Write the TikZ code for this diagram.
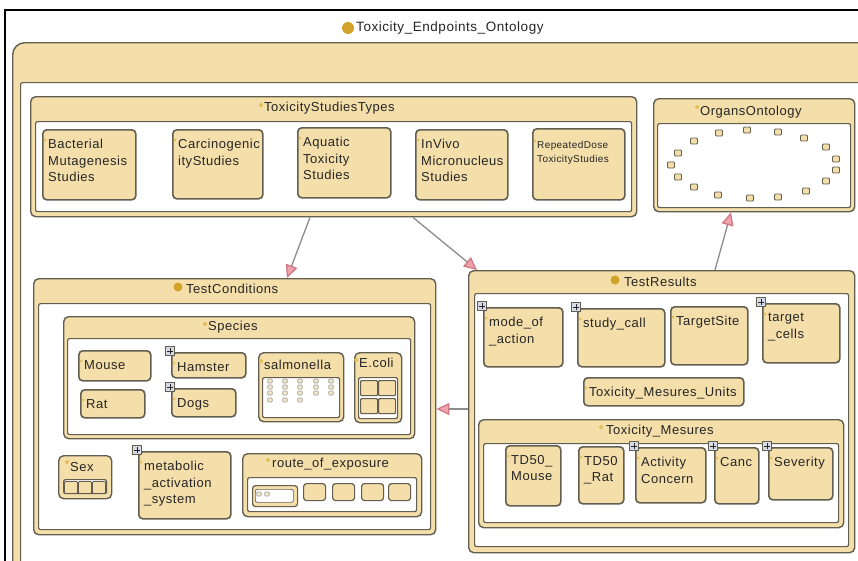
\documentclass[tikz,border=0pt]{standalone}
\usepackage{fontspec}
\setmainfont{Liberation Sans}[LetterSpace=4]
\usetikzlibrary{arrows.meta}

\definecolor{tan}{HTML}{F4DEA9}
\definecolor{edge}{HTML}{625E50}
\definecolor{ink}{HTML}{262626}
\definecolor{gold}{HTML}{D2A22A}
\definecolor{dotgold}{HTML}{E3BE5C}
\definecolor{pinkfill}{HTML}{EFA3AE}
\definecolor{pinkedge}{HTML}{D27684}
\definecolor{wire}{HTML}{8C8C8C}
\definecolor{plusbg}{HTML}{D5DAE6}
\definecolor{cellfill}{HTML}{F1E7CC}

\tikzset{
  packo/.style={draw=edge, line width=1.4pt, fill=tan, rounded corners=5pt, inner sep=0pt},
  packi/.style={draw=edge, line width=1.2pt, fill=white, rounded corners=2pt, inner sep=0pt},
  kid/.style={draw=edge, line width=1.6pt, fill=tan, rounded corners=4pt, inner sep=0pt},
  kidtext/.style={font=\fontsize{13}{16.5}\selectfont, text=ink, align=left, inner sep=0pt},
  head/.style={font=\fontsize{13}{16}\selectfont, text=ink, inner sep=0pt, anchor=west},
  bigdot/.style={circle, fill=gold, inner sep=0pt, minimum size=10pt},
  smalldot/.style={circle, fill=dotgold, inner sep=0pt, minimum size=4pt},
  kidmark/.style={circle, fill=dotgold, inner sep=0pt, minimum size=3pt},
  plusbox/.style={draw=edge, fill=plusbg, line width=0.8pt, minimum size=9pt, inner sep=0pt,
    path picture={
      \draw[ink, line width=0.9pt]
        ([xshift=-2.6pt]path picture bounding box.center) -- ([xshift=2.6pt]path picture bounding box.center)
        ([yshift=-2.6pt]path picture bounding box.center) -- ([yshift=2.6pt]path picture bounding box.center);}},
  rel/.style={draw=wire, line width=1.3pt,
    -{Triangle[length=13pt,width=12pt,fill=pinkfill,color=pinkedge]}},
  organ/.style={draw=edge, fill=tan, line width=0.9pt, rounded corners=1pt,
    minimum width=7pt, minimum height=6pt, inner sep=0pt},
  cell/.style={draw=edge!60, fill=cellfill, line width=0.6pt, rounded corners=0.8pt,
    minimum width=4.5pt, minimum height=4pt, inner sep=0pt},
  slot/.style={draw=edge, fill=tan, line width=1.2pt, rounded corners=3pt, inner sep=0pt},
}

% package box: name, x, y, width, height, header height, side gap
\newcommand\pack[7]{%
  \node[packo, anchor=north west, minimum width=#4pt, minimum height=#5pt] (#1) at (#2,#3) {};
  \node[packi, anchor=north west, minimum width={(#4-2*#7)*1pt}, minimum height={(#5-#6-#7)*1pt}]
    (#1-in) at ([xshift=#7pt,yshift=-#6pt]#1.north west) {};
}
% class box: name, x, y, width, height, text
\newcommand\kid[6]{%
  \node[kid, anchor=north west, minimum width=#4pt, minimum height=#5pt] (#1) at (#2,#3) {};
  \node[kidtext, anchor=north west] (#1-t) at ([xshift=6pt,yshift=-10pt]#1.north west) {#6};
  \node[kidmark] (#1-m) at ([xshift=3pt,yshift=-11pt]#1.north west) {};
}
% expand marker at the corner of a class box
\newcommand\plusmark[1]{%
  \node[plusbox] (#1-p) at ([xshift=-1pt,yshift=1pt]#1.north west) {};
}

\begin{document}
\begin{tikzpicture}[x=1pt,y=-1pt]
\useasboundingbox (0,0) rectangle (858,560);
\fill[white] (0,0) rectangle (858,560);
\clip (0,0) rectangle (858,560);

% window frame
\draw[black, line width=2.2pt] (5,600) -- (5,10) -- (900,10);

% title of the ontology
\node[bigdot, minimum size=12pt] (onto-dot) at (348,28) {};
\node[head, font=\fontsize{13.5}{16}\selectfont] (onto-lbl) at (356,28) {Toxicity\_Endpoints\_Ontology};

% enclosing package
\node[packo, rounded corners=12pt, anchor=north west, minimum width=900pt, minimum height=600pt] (onto) at (12,42) {};
\node[packi, anchor=north west, minimum width=900pt, minimum height=600pt] (onto-in) at (20,82) {};

% ---------- ToxicityStudiesTypes ----------
\pack{tst}{30}{96}{606}{120}{25}{5}
\node[smalldot] (tst-d) at (261,105) {};
\node[head] (tst-l) at (264,108) {ToxicityStudiesTypes};
\kid{bact}{42}{129}{93}{70}{Bacterial\\Mutagenesis\\Studies}
\kid{carc}{172}{129}{90}{69}{Carcinogenic\\ityStudies}
\kid{aqua}{297}{127}{93}{70}{Aquatic\\Toxicity\\Studies}
\kid{invivo}{415}{129}{92}{70}{InVivo\\Micronucleus\\Studies}
\node[kid, anchor=north west, minimum width=92pt, minimum height=71pt] (rep) at (532,128) {};
\node[kidtext, font=\fontsize{10}{14}\selectfont, anchor=north west] (rep-t) at ([xshift=5pt,yshift=-13pt]rep.north west) {RepeatedDose\\ToxicityStudies};
\node[kidmark] (rep-m) at ([xshift=3pt,yshift=-13pt]rep.north west) {};

% ---------- OrgansOntology ----------
\pack{orgs}{653}{98}{201}{113}{25}{4}
\node[smalldot] (orgs-d) at (697,107) {};
\node[head] (orgs-l) at (700,112) {OrgansOntology};
\foreach \p [count=\i] in {(719,133),(747,130),(778,132),(804,138),(826,147),(836,159),
  (836,170),(826,181),(806,191),(778,197),(750,198),(718,195),(694,187),(678,177),
  (671,165),(678,153),(694,141)}
  \node[organ] (organ\i) at \p {};

% ---------- TestConditions ----------
\pack{tc}{33}{278}{402}{256}{25}{5}
\node[bigdot, minimum size=9pt] (tc-d) at (178,287) {};
\node[head] (tc-l) at (186,289) {TestConditions};

\pack{spec}{63}{316}{351}{122}{22}{4}
\node[smalldot] (spec-d) at (205,324) {};
\node[head] (spec-l) at (208,327) {Species};
\kid{mouse}{78}{350}{72}{30}{Mouse}
\kid{rat}{80}{389}{64}{28}{Rat}
\kid{hamster}{171}{352}{74}{25}{Hamster}
\plusmark{hamster}
\kid{dogs}{171}{388}{64}{28}{Dogs}
\plusmark{dogs}

\pack{salm}{258}{352}{85}{69}{25}{4}
\node[smalldot] (salm-d) at (261,361) {};
\node[head] (salm-l) at (264,365) {salmonella};
\foreach \cx in {270,285,300} \foreach \cy in {381,387,393,400}
  \node[cell] (salm-\cx-\cy) at (\cx,\cy) {};
\foreach \cx in {316,331} \foreach \cy in {381,387,393}
  \node[cell] (salm-\cx-\cy) at (\cx,\cy) {};

\pack{ecoli}{354}{352}{47}{70}{25}{4}
\node[smalldot] (ecoli-d) at (356,360) {};
\node[head] (ecoli-l) at (359,363) {E.coli};
\foreach \cx/\cy [count=\i] in {360/380,378/380,360/398,378/398}
  \node[slot, rounded corners=1pt, anchor=north west, minimum width=17pt, minimum height=15pt] (ecoli-c\i) at (\cx,\cy) {};

\pack{sex}{58}{455}{53}{43}{24}{5}
\node[smalldot] (sex-d) at (67,462) {};
\node[head] (sex-l) at (70,467) {Sex};
\foreach \cx [count=\i] in {64,78,92}
  \node[slot, rounded corners=1pt, line width=0.9pt, anchor=north west, minimum width=13pt, minimum height=12pt] (sex-c\i) at (\cx,481) {};

\kid{meta}{138}{451}{92}{67}{metabolic\\\_activation\\\_system}
\plusmark{meta}

\pack{route}{242}{453}{179}{63}{24}{5}
\node[smalldot] (route-d) at (268,460) {};
\node[head] (route-l) at (272,464) {route\_of\_exposure};
\node[slot, anchor=north west, minimum width=45pt, minimum height=21pt] (route-c0) at (252,485) {};
\node[packi, line width=0.7pt, anchor=north west, minimum width=38pt, minimum height=13pt] (route-c0-in) at (255,489) {};
\node[cell] (route-c0-a) at (259,494) {};
\node[cell] (route-c0-b) at (267,494) {};
\foreach \cx [count=\i] in {303,332,361,388}
  \node[slot, anchor=north west, minimum width=22pt, minimum height=17pt] (route-c\i) at (\cx,483) {};

% ---------- TestResults ----------
\pack{tr}{468}{270}{386}{282}{23}{6}
\node[bigdot, minimum size=9pt] (tr-d) at (615,280) {};
\node[head] (tr-l) at (624,282) {TestResults};
\kid{mode}{483}{307}{79}{59}{mode\_of\\\_action}
\plusmark{mode}
\kid{study}{577}{308}{87}{58}{study\_call}
\plusmark{study}
\kid{site}{670}{306}{77}{58}{TargetSite}
\kid{cells}{762}{303}{77}{59}{target\\\_cells}
\plusmark{cells}
\kid{units}{583}{377}{160}{28}{Toxicity\_Mesures\_Units}

\pack{tm}{478}{419}{365}{108}{24}{5}
\node[smalldot] (tm-d) at (601,427) {};
\node[head] (tm-l) at (606,431) {Toxicity\_Mesures};
\kid{tdm}{505}{445}{55}{60}{TD50\_\\Mouse}
\kid{tdr}{578}{446}{45}{57}{TD50\\\_Rat}
\kid{act}{635}{447}{70}{55}{Activity\\Concern}
\plusmark{act}
\kid{canc}{714}{447}{44}{56}{Canc}
\plusmark{canc}
\kid{sev}{768}{447}{64}{52}{Severity}
\plusmark{sev}

% ---------- dependencies ----------
\draw[rel] ([xshift=280pt]tst.south west) -- ([xshift=254pt]tc.north west);
\draw[rel] ([xshift=383pt]tst.south west) -- ([xshift=9pt]tr.north west);
\draw[rel] ([xshift=247pt]tr.north west) -- ([xshift=78pt]orgs.south west);
\draw[rel] ([yshift=-139pt]tr.north west) -- ([yshift=-131pt]tc.north east);
\end{tikzpicture}
\end{document}
